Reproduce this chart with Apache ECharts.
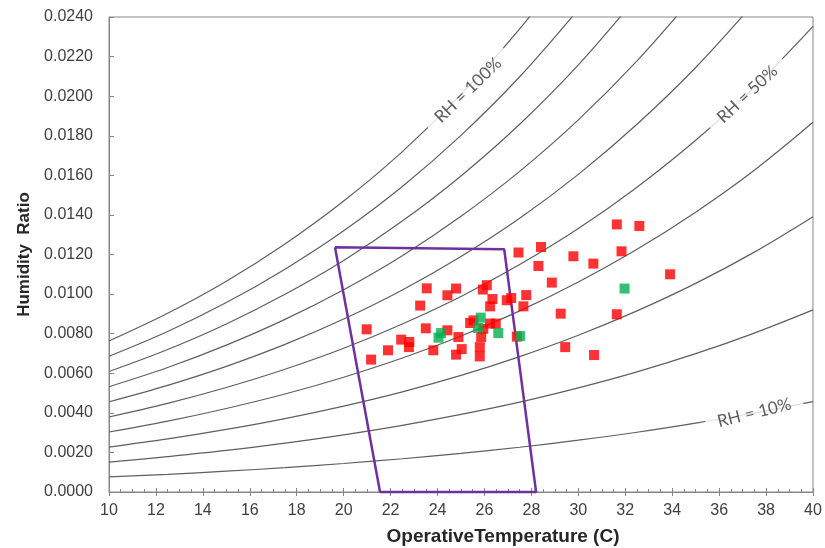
<!DOCTYPE html>
<html>
<head>
<meta charset="utf-8">
<title>Psychrometric chart</title>
<script src="https://cdn.jsdelivr.net/npm/echarts@6.0.0/dist/echarts.min.js"></script>
<style>
  html, body { margin: 0; padding: 0; background: #fff; }
  #chart { width: 825px; height: 548px; }
</style>
</head>
<body>
<div id="chart"></div>
<script>
const temps = [10, 12.5, 15, 17.5, 20, 22.5, 25, 27.5, 30, 32.5, 35, 37.5, 40];

// humidity ratio along each RH curve (runs past the top are clipped)
const rh100 = [0.00763, 0.00903, 0.01065, 0.01253, 0.01470, 0.01720, 0.02009, 0.02340, 0.02721];
const rh90 = [0.00686, 0.00811, 0.00957, 0.01126, 0.01320, 0.01544, 0.01802, 0.02098, 0.02438];
const rh80 = [0.00609, 0.00720, 0.00849, 0.00999, 0.01170, 0.01369, 0.01597, 0.01858, 0.02158, 0.02502];
const rh70 = [0.00532, 0.00629, 0.00742, 0.00872, 0.01022, 0.01194, 0.01393, 0.01620, 0.01880, 0.02178, 0.02517];
const rh60 = [0.00456, 0.00539, 0.00635, 0.00746, 0.00874, 0.01021, 0.01190, 0.01383, 0.01605, 0.01858, 0.02145, 0.02472];
const rh50 = [0.00379, 0.00448, 0.00528, 0.00620, 0.00726, 0.00849, 0.00988, 0.01149, 0.01331, 0.01540, 0.01777, 0.02046, 0.02353];
const rh40 = [0.00303, 0.00358, 0.00422, 0.00495, 0.00580, 0.00677, 0.00788, 0.00915, 0.01061, 0.01226, 0.01414, 0.01626, 0.01868];
const rh30 = [0.00227, 0.00268, 0.00316, 0.00371, 0.00434, 0.00506, 0.00589, 0.00684, 0.00792, 0.00915, 0.01054, 0.01212, 0.01391];
const rh20 = [0.00151, 0.00179, 0.00210, 0.00247, 0.00289, 0.00337, 0.00392, 0.00454, 0.00526, 0.00607, 0.00699, 0.00803, 0.00920];
const rh10 = [0.00076, 0.00089, 0.00105, 0.00123, 0.00144, 0.00168, 0.00195, 0.00226, 0.00262, 0.00302, 0.00348, 0.00399, 0.00457];

// comfort zone outline
const zoneT = [19.63, 26.84, 28.2, 21.55, 19.63];
const zoneW = [0.01237, 0.01227, 0, 0, 0.01237];

// measured points (red)
const redT = [20.98, 21.17, 21.89, 22.45, 22.80, 22.78, 23.26, 23.54, 23.50, 23.82, 24.42, 24.79, 24.42, 24.89, 25.03, 24.79,
  25.39, 25.53, 25.93, 26.10, 26.34, 26.24, 25.86, 25.80, 26.24, 26.48, 25.95, 25.80, 26.95, 27.14, 27.78, 27.66,
  27.45, 28.41, 28.30, 27.38, 28.87, 29.79, 30.64, 31.84, 31.64, 32.60, 29.25, 31.64, 29.44, 30.67, 33.91];
const redW = [0.00822, 0.00669, 0.00716, 0.00770, 0.00758, 0.00732, 0.00942, 0.01029, 0.00827, 0.00716, 0.00994, 0.01028, 0.00817, 0.00783, 0.00722, 0.00694,
  0.00854, 0.00867, 0.01023, 0.01045, 0.00975, 0.00938, 0.00783, 0.00685, 0.00851, 0.00851, 0.00825, 0.00732, 0.00969, 0.00980, 0.00995, 0.00938,
  0.01210, 0.01238, 0.01142, 0.00785, 0.01058, 0.01191, 0.01154, 0.01216, 0.01352, 0.01344, 0.00901, 0.00898, 0.00732, 0.00692, 0.01100];

// measured points (green)
const greenT = [25.84, 25.72, 24.15, 24.04, 26.59, 27.52, 31.97];
const greenW = [0.00881, 0.00829, 0.00803, 0.00780, 0.00803, 0.00788, 0.01028];

// curve labels
const rhLabels = [
  { text: 'RH = 100%', t: 25.3, w: 0.0203, angle: 44 },
  { text: 'RH = 50%', t: 37.2, w: 0.0201, angle: 43 },
  { text: 'RH = 10%', t: 37.5, w: 0.0040, angle: 14 }
];

const axisGrey = '#868686';
const textGrey = '#404040';

const curves = [rh100, rh90, rh80, rh70, rh60, rh50, rh40, rh30, rh20, rh10];
const pair = (xs, ys) => ys.map((y, i) => [xs[i], y]);

const series = curves.map(c => ({
  type: 'line',
  data: pair(temps, c),
  smooth: 0.35,
  showSymbol: false,
  silent: true,
  lineStyle: { color: '#5f5f5f', width: 1.2 },
  z: 1
}));

series.push({
  type: 'scatter',
  symbolSize: 1,
  itemStyle: { color: 'transparent' },
  silent: true,
  z: 3,
  label: {
    show: true,
    position: 'inside',
    fontFamily: 'Lato',
    fontSize: 17,
    color: '#333333',
    backgroundColor: '#fff',
    padding: [1, 12]
  },
  data: rhLabels.map(l => ({
    value: [l.t, l.w],
    label: { formatter: l.text, rotate: l.angle }
  }))
});

series.push({
  type: 'line',
  data: pair(zoneT, zoneW),
  showSymbol: false,
  clip: false,
  lineStyle: { color: '#7030A0', width: 2.5 },
  z: 4
});

series.push({
  type: 'scatter',
  symbol: 'rect',
  symbolSize: 10,
  itemStyle: { color: '#FF0000' },
  data: pair(redT, redW),
  z: 5
});

series.push({
  type: 'scatter',
  symbol: 'rect',
  symbolSize: 10,
  itemStyle: { color: '#00B050' },
  data: pair(greenT, greenW),
  z: 6
});

const chart = echarts.init(document.getElementById('chart'), null, { renderer: 'canvas' });

chart.setOption({
  animation: false,
  textStyle: { fontFamily: 'Liberation Sans' },
  grid: {
    left: 109, right: 12, top: 17, bottom: 56,
    outerBoundsMode: 'none',
    show: true, borderColor: axisGrey, borderWidth: 1
  },
  xAxis: [
    {
      type: 'value', min: 10, max: 40, interval: 2,
      position: 'bottom',
      axisLine: { show: true, lineStyle: { color: axisGrey, width: 1 } },
      axisTick: { show: true, inside: true, length: 4, lineStyle: { color: axisGrey } },
      minorTick: { show: true, splitNumber: 4, length: 3, lineStyle: { color: axisGrey } },
      axisLabel: { fontSize: 16, color: textGrey, margin: 11 },
      splitLine: { show: false },
      name: 'OperativeTemperature (C)',
      nameLocation: 'middle',
      nameGap: 35,
      nameTextStyle: { fontSize: 19, fontWeight: 'bold', color: '#262626', padding: [0, 0, 0, 84] }
    },
    {
      // outer half of the major ticks
      type: 'value', min: 10, max: 40, interval: 2,
      position: 'bottom',
      axisLine: { show: false },
      axisTick: { show: true, inside: false, length: 4, lineStyle: { color: axisGrey } },
      axisLabel: { show: false },
      splitLine: { show: false }
    }
  ],
  yAxis: {
    type: 'value', min: 0, max: 0.024, interval: 0.002,
    axisLine: { show: true, lineStyle: { color: axisGrey, width: 1 } },
    axisTick: { show: true, inside: true, length: 5, lineStyle: { color: axisGrey } },
    axisLabel: { fontSize: 16, color: textGrey, margin: 16, formatter: v => v.toFixed(4) },
    splitLine: { show: false },
    name: 'Humidity  Ratio',
    nameLocation: 'middle',
    nameGap: 64,
    nameTextStyle: { fontSize: 17, fontWeight: 'bold', color: '#262626' }
  },
  series: series
});
</script>
</body>
</html>
